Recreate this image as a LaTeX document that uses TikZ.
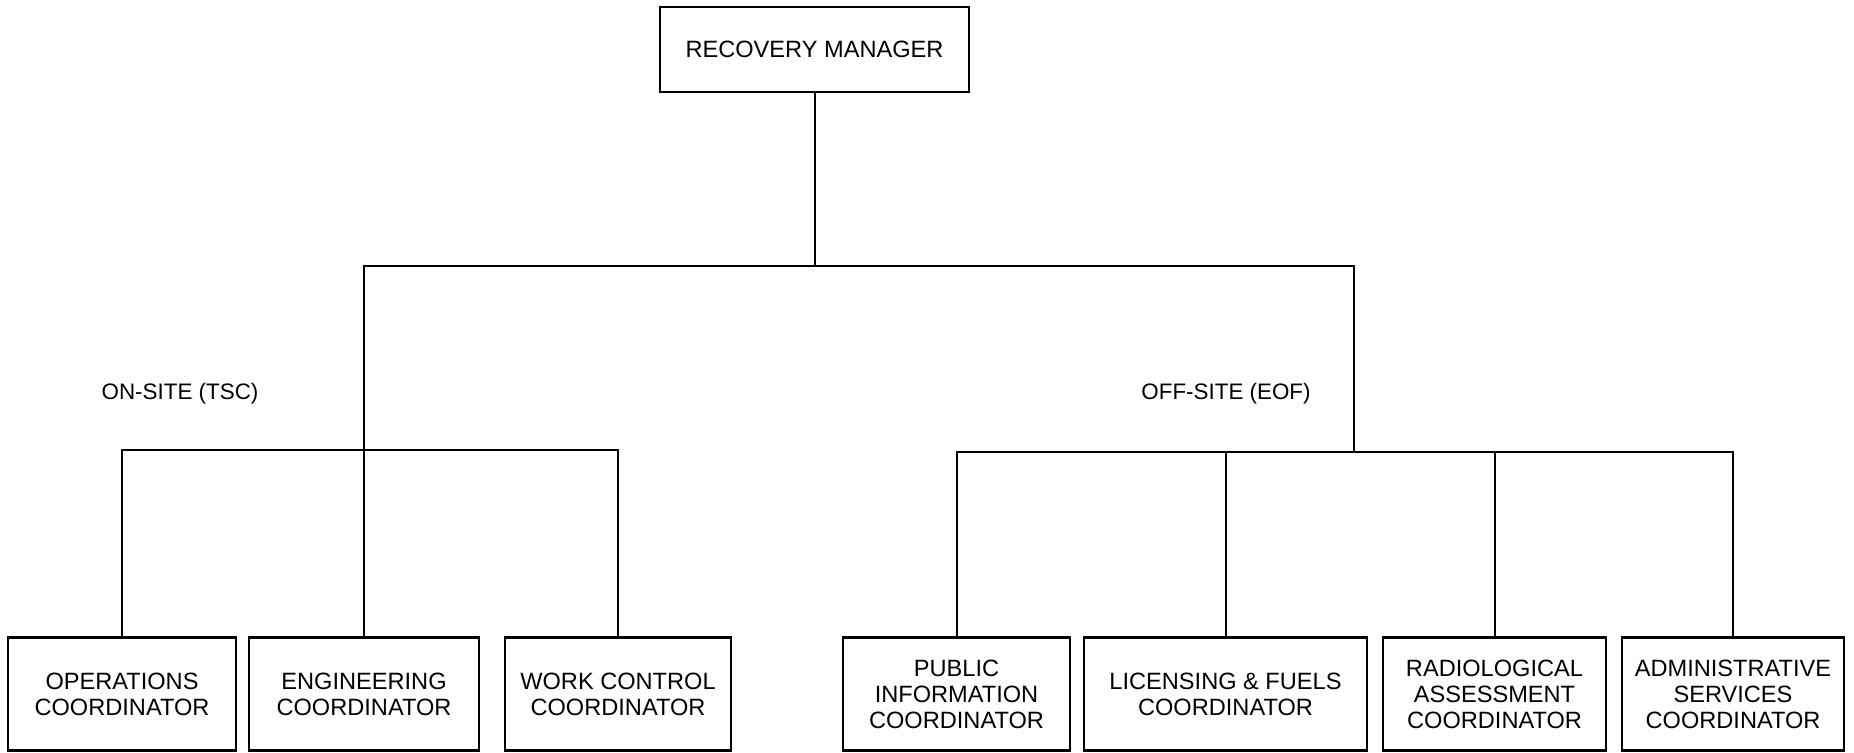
\documentclass[tikz,border=0pt]{standalone}
\usepackage{fontspec}
\setmainfont{Liberation Sans}

\begin{document}
\begin{tikzpicture}[x=0.5pt,y=-0.5pt,
		post/.style={draw,line width=1.2pt,align=center,inner sep=0pt,
			font=\fontsize{11.8}{13}\selectfont},
		site/.style={font=\fontsize{11.2}{12}\selectfont},
		line width=1pt]
		\useasboundingbox (0,0) rectangle (1854,752);

		% manager
		\node[post,minimum width=154.5pt,minimum height=42.5pt] (rm) at (814.5,49.5) {RECOVERY MANAGER};

		% on-site coordinators
		\node[post,minimum width=114pt,minimum height=56.5pt] (ops) at (122,694) {OPERATIONS\\COORDINATOR};
		\node[post,minimum width=115pt,minimum height=56.5pt] (eng) at (364,694) {ENGINEERING\\COORDINATOR};
		\node[post,minimum width=113pt,minimum height=56.5pt] (wcc) at (618,694) {WORK CONTROL\\COORDINATOR};

		% off-site coordinators
		\node[post,minimum width=113.5pt,minimum height=56.5pt] (pic) at (956.5,694) {PUBLIC\\INFORMATION\\COORDINATOR};
		\node[post,minimum width=141.5pt,minimum height=56.5pt] (lfc) at (1225.5,694) {LICENSING \& FUELS\\COORDINATOR};
		\node[post,minimum width=111.5pt,minimum height=56.5pt] (rac) at (1494.5,694) {RADIOLOGICAL\\ASSESSMENT\\COORDINATOR};
		\node[post,minimum width=111pt,minimum height=56.5pt] (asc) at (1733,694) {ADMINISTRATIVE\\SERVICES\\COORDINATOR};

		\node[site] (onsite) at (180,394) {ON-SITE (TSC)};
		\node[site] (offsite) at (1226,394) {OFF-SITE (EOF)};

		\coordinate (mainbus) at (0,266);
		\coordinate (onbus) at (0,450);
		\coordinate (offbus) at (0,452);
		\coordinate (offtop) at (1354,266);

		\draw (rm.south) -- (rm.south |- mainbus);
		\draw (eng.north) |- (offtop) -- (offtop |- offbus);
		\draw (ops.north) |- (wcc.north |- onbus) -- (wcc.north);
		\draw (pic.north) |- (asc.north |- offbus) -- (asc.north);
		\draw (lfc.north) -- (lfc.north |- offbus);
		\draw (rac.north) -- (rac.north |- offbus);

	\end{tikzpicture}
\end{document}
